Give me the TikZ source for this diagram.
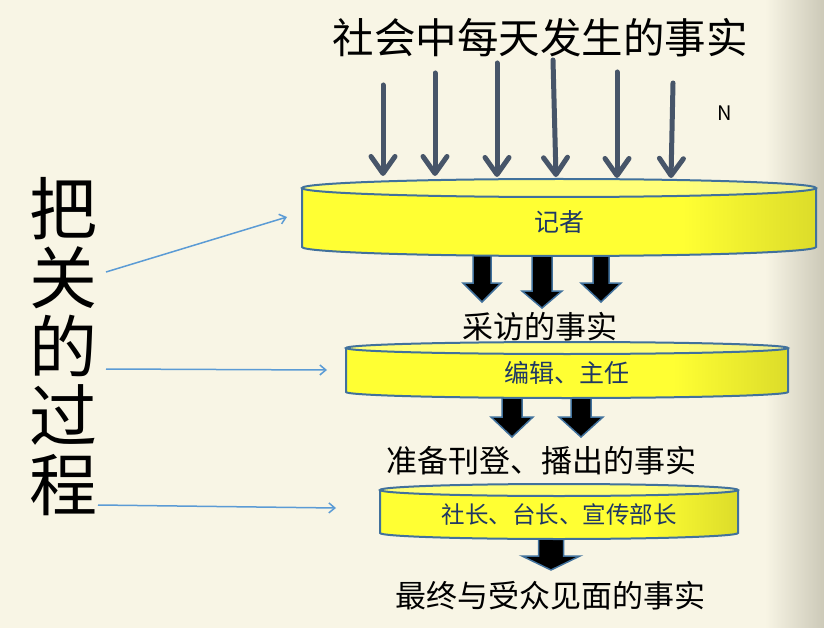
\documentclass[tikz,border=0pt]{standalone}
\usepackage{fontspec}
\newfontfamily\cjk{Noto Sans CJK SC}
\usetikzlibrary{arrows.meta}
\definecolor{bgcream}{RGB}{248,245,229}
\definecolor{bgedge}{RGB}{204,201,184}
\definecolor{feedgray}{RGB}{71,85,105}
\definecolor{gateblue}{RGB}{91,155,213}
\definecolor{diskline}{RGB}{65,113,156}
\definecolor{disktext}{RGB}{31,56,100}
\definecolor{dyellow}{RGB}{255,255,51}
\definecolor{dyellowdark}{RGB}{220,220,42}
\definecolor{dtop}{RGB}{255,255,120}
\definecolor{dtopdark}{RGB}{235,235,150}
\pgfdeclarehorizontalshading{diskbody}{100bp}{color(0bp)=(dyellow); color(25bp)=(dyellow); color(62bp)=(dyellow); color(75bp)=(dyellowdark); color(100bp)=(dyellowdark)}
\pgfdeclarehorizontalshading{disktop}{100bp}{color(0bp)=(dtop); color(25bp)=(dtop); color(62bp)=(dtop); color(75bp)=(dtopdark); color(100bp)=(dtopdark)}
\tikzstyle{fact}=[font=\cjk\fontsize{31}{31}\selectfont, inner sep=0pt]
\tikzstyle{disklabel}=[font=\cjk\fontsize{25}{25}\selectfont, text=disktext, inner sep=0pt]
\tikzstyle{feed}=[draw=feedgray, line width=5pt, line cap=round, -{Straight Barb[length=17pt, width=24pt, round]}]
\tikzstyle{gate}=[draw=gateblue, line width=1.5pt, -{Straight Barb[length=6pt, width=10pt]}]
\tikzstyle{blockarrow}=[draw=diskline, line width=1.5pt, fill=black]
\newcommand{\fact}{\node[fact]}
% disk: name, x centre, y top, y bottom, x radius, y radius, label
\newcommand{\disk}[7]{%
  \shade[shading=diskbody] ({#2-#5},#3) -- ({#2-#5},#4) arc[start angle=180, end angle=360, x radius=#5pt, y radius=#6pt] -- ({#2+#5},#3) arc[start angle=0, end angle=180, x radius=#5pt, y radius=#6pt] -- cycle;
  \draw[diskline, line width=2pt] ({#2-#5},#3) -- ({#2-#5},#4) arc[start angle=180, end angle=360, x radius=#5pt, y radius=#6pt] -- ({#2+#5},#3);
  \shadedraw[shading=disktop, draw=diskline, line width=2pt] (#2,#3) ellipse[x radius=#5pt, y radius=#6pt];
  \node[disklabel] (#1) at (#2,{(#3+#6+#4)/2}) {#7};}
% block arrow: x, y top, y head, y tip, half shaft, half head
\newcommand{\blockarrow}[6]{%
  \fill ({#1-#5},#2) -- ({#1-#5},#3) -- ({#1-#6},#3) -- (#1,#4) -- ({#1+#6},#3) -- ({#1+#5},#3) -- ({#1+#5},#2) -- cycle;
  \draw[blockarrow, fill=none] ({#1-#5},#2) -- ({#1-#5},#3) -- ({#1-#6},#3) -- (#1,#4) -- ({#1+#6},#3) -- ({#1+#5},#3) -- ({#1+#5},#2);}

\begin{document}
\begin{tikzpicture}[x=1pt, y=-1pt]
\fill[bgcream] (0,0) rectangle (824,628);
\shade[left color=bgcream, right color=bgedge] (765,0) rectangle (824,628);
\useasboundingbox (0,0) rectangle (824,628);

\node[font=\cjk\fontsize{41.5}{41.5}\selectfont, inner sep=0pt] (facts) at (540,38) {社会中每天发生的事实};
\node[font=\cjk\fontsize{20}{20}\selectfont, inner sep=0pt] (many) at (725,113) {N};
\node[font=\cjk\fontsize{68}{69}\selectfont, align=center, inner sep=0pt] (process) at (63,347) {把\\关\\的\\过\\程};

% news coming in
\foreach \i/\xa/\ya/\xb/\yb in {1/383/85/383/176, 2/435/73/435/176, 3/497/63/497/177, 4/553/60/556/177, 5/617/72/617/178, 6/673/83/671/178}
{
    \coordinate (src\i) at (\xa,\ya);
    \coordinate (snk\i) at (\xb,\yb);
    \draw[feed] (src\i) -- (snk\i);
}

\blockarrow{482}{250}{283}{302}{9}{19}
\blockarrow{542}{250}{291}{308}{10}{20}
\blockarrow{601}{250}{283}{302}{8}{20}
\blockarrow{512}{395}{417}{437}{10}{21}
\blockarrow{581}{395}{417}{437}{10}{22}
\blockarrow{551}{536}{556}{570}{12.5}{29}

\disk{reporter}{559}{188}{247}{257}{9}{记者}
\disk{editor}{567}{348}{392}{221}{6}{编辑、主任}
\disk{chief}{559}{490}{533}{179}{6}{\fontsize{23.5}{23.5}\selectfont 社长、台长、宣传部长}

\fact (interviewed) at (540,327) {采访的事实};
\fact (ready) at (541,461) {准备刊登、播出的事实};
\fact (final) at (550,596) {最终与受众见面的事实};

% gatekeeping
\coordinate (g1) at (106,272);
\coordinate (g2) at (106,369);
\coordinate (g3) at (98,505);
\coordinate (d1) at (287,217);
\coordinate (d2) at (327,370);
\coordinate (d3) at (336,508);
\path
    (g1) edge[gate] (d1)
    (g2) edge[gate] (d2)
    (g3) edge[gate] (d3)
    ;
\end{tikzpicture}
\end{document}
